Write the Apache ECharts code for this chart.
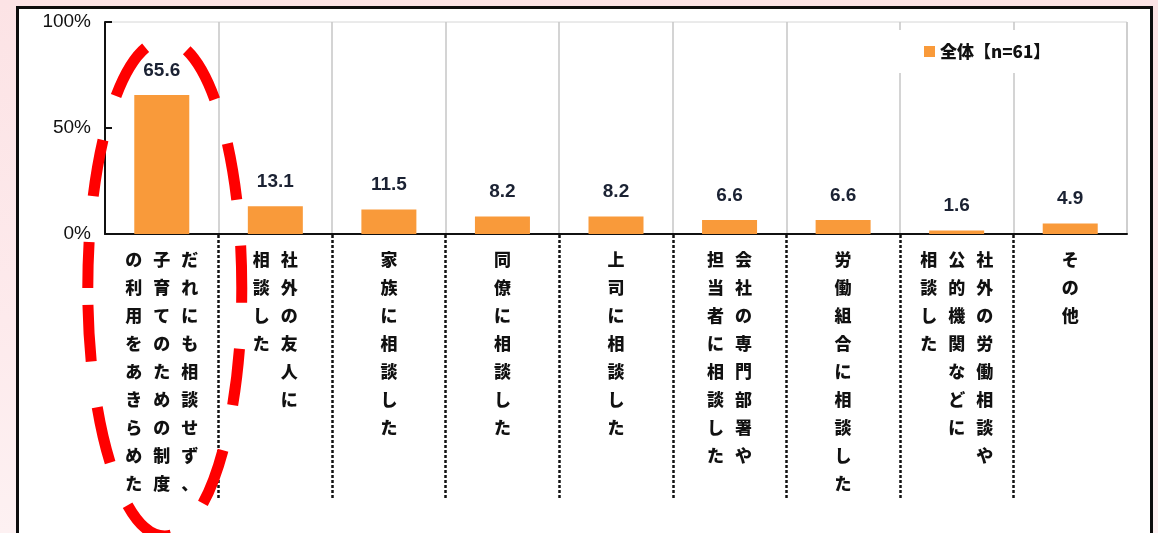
<!DOCTYPE html>
<html lang="ja">
<head>
<meta charset="utf-8">
<title>相談状況</title>
<script src="https://cdn.jsdelivr.net/npm/echarts@6/dist/echarts.min.js"></script>
<style>
  html, body { margin: 0; padding: 0; }
  body {
    width: 1158px; height: 533px; overflow: hidden; position: relative;
    background: linear-gradient(to bottom, #fce3e5 0%, #fdeaec 60%, #fdf1f2 100%);
  }
  #panel {
    position: absolute; left: 16px; top: 6px; width: 1137px; height: 560px;
    box-sizing: border-box; border: 3px solid #0d0d0d; background: #ffffff;
  }
  #chart { position: absolute; left: 0; top: 0; width: 1158px; height: 533px; }
</style>
</head>
<body>
<div id="panel"></div>
<div id="chart"></div>
<script>
// Categories: each "\n" starts a new vertical column (read right to left).
const categories = [
  'だれにも相談せず、\n子育てのための制度\nの利用をあきらめた',
  '社外の友人に\n相談した',
  '家族に相談した',
  '同僚に相談した',
  '上司に相談した',
  '会社の専門部署や\n担当者に相談した',
  '労働組合に相談した',
  '社外の労働相談や\n公的機関などに\n相談した',
  'その他'
];
const values = [65.6, 13.1, 11.5, 8.2, 8.2, 6.6, 6.6, 1.6, 4.9];
const seriesName = '全体【n=61】';
const percentTicks = [0, 50, 100];

const BAR_COLOR = '#f99a3a';
const JP_FONT = '"Noto Sans CJK JP", "Noto Sans", sans-serif';
const NUM_FONT = '"Liberation Sans", Arial, sans-serif';

// Turn a multi-column label into rows of fixed-width cells (tategaki layout).
function toVertical(label) {
  const cols = label.split('\n').map(s => Array.from(s));
  const n = Math.max.apply(null, cols.map(c => c.length));
  const rows = [];
  for (let r = 0; r < n; r++) {
    const cells = [];
    for (let c = cols.length - 1; c >= 0; c--) {
      const ch = cols[c][r] || '\u3000';
      cells.push('{c|' + ch + '}');
    }
    rows.push(cells.join(''));
  }
  return rows.join('\n');
}

const chart = echarts.init(document.getElementById('chart'), null, { renderer: 'canvas' });

const option = {
  backgroundColor: 'transparent',
  animation: false,
  legend: {
    data: [seriesName],
    left: 898,
    top: 30,
    padding: [13, 16, 13, 26],
    backgroundColor: '#ffffff',
    icon: 'rect',
    itemWidth: 11,
    itemHeight: 11,
    textStyle: { fontFamily: JP_FONT, fontWeight: 900, fontSize: 17, color: '#111111' }
  },
  grid: [
    { left: 105, right: 31, top: 22, bottom: 299, show: true, borderColor: '#d6d6d6', borderWidth: 1 },
    { left: 105, right: 31, top: 235, height: 263, show: false }
  ],
  xAxis: [
    {
      type: 'category',
      gridIndex: 0,
      data: categories,
      boundaryGap: true,
      axisLine: { show: true, lineStyle: { color: '#111111', width: 2 } },
      axisTick: { show: false },
      splitLine: {
        show: true, interval: 0, showMinLine: false,
        lineStyle: { color: '#c6c6c6', width: 1.5 }
      },
      axisLabel: {
        interval: 0,
        margin: 12,
        formatter: toVertical,
        rich: {
          c: {
            width: 28, align: 'center', lineHeight: 28,
            fontFamily: JP_FONT, fontWeight: 900, fontSize: 17, color: '#111111'
          }
        }
      }
    },
    {
      type: 'category',
      gridIndex: 1,
      data: categories,
      boundaryGap: true,
      axisLine: { show: false },
      axisTick: { show: false },
      axisLabel: { show: false },
      splitLine: {
        show: true, interval: 0, showMinLine: false, showMaxLine: false,
        lineStyle: { color: '#111111', width: 2.5, type: [3, 2] }
      }
    }
  ],
  yAxis: [
    {
      type: 'value',
      gridIndex: 0,
      min: percentTicks[0],
      max: percentTicks[percentTicks.length - 1],
      interval: percentTicks[1] - percentTicks[0],
      axisLine: { show: true, lineStyle: { color: '#111111', width: 2 } },
      axisTick: { show: true, inside: true, length: 7, lineStyle: { color: '#111111', width: 2 } },
      splitLine: { show: false },
      axisLabel: {
        formatter: '{value}%', margin: 14,
        fontFamily: NUM_FONT, fontSize: 19, color: '#111111'
      }
    },
    { type: 'value', gridIndex: 1, show: false }
  ],
  series: [
    {
      name: seriesName,
      type: 'bar',
      xAxisIndex: 0,
      yAxisIndex: 0,
      data: values,
      barWidth: 55,
      itemStyle: { color: BAR_COLOR },
      label: {
        show: true,
        position: 'top',
        distance: 15,
        formatter: p => p.value.toFixed(1),
        fontFamily: NUM_FONT,
        fontSize: 19,
        fontWeight: 'bold',
        color: '#1b2233'
      }
    }
  ]
};

chart.setOption(option);

// Red dashed ellipse highlighting the first category.
const firstX = chart.convertToPixel({ xAxisIndex: 0 }, categories[0]);
chart.setOption({
  graphic: [
    {
      type: 'ellipse',
      z: 100,
      silent: true,
      shape: { cx: firstX + 3, cy: 288, rx: 77, ry: 248 },
      style: { fill: 'none', stroke: '#ff0000', lineWidth: 11, lineDash: [57, 46], lineDashOffset: 11 }
    }
  ]
});
</script>
</body>
</html>
